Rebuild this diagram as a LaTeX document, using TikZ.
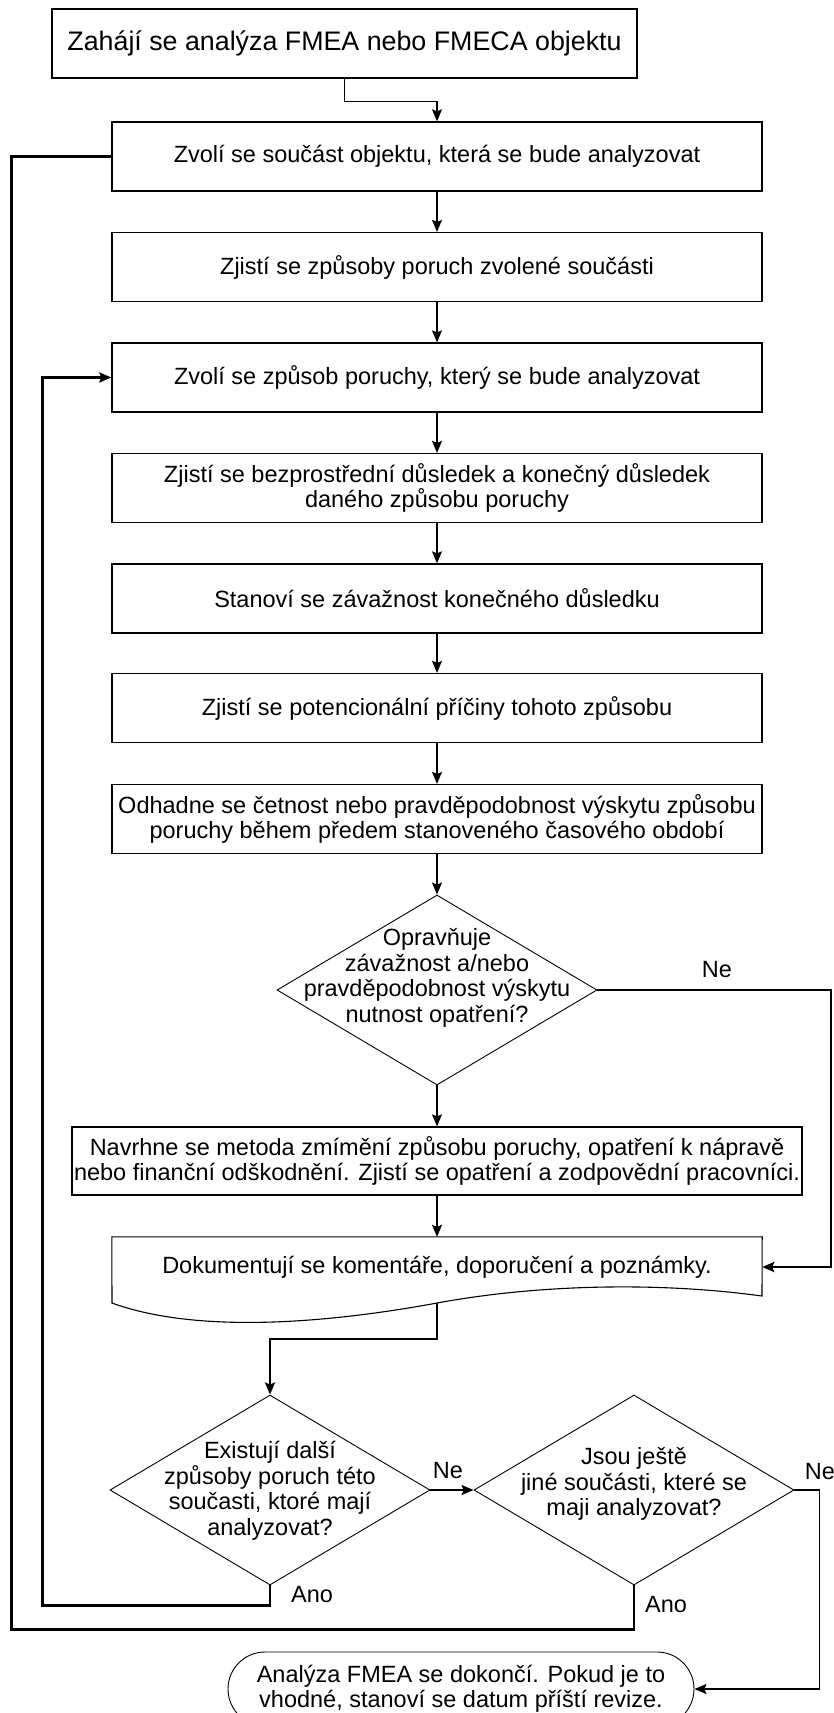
\documentclass[tikz,border=0pt]{standalone}
\usepackage{fontspec}
\setmainfont{Liberation Sans}
\usetikzlibrary{arrows.meta,shapes.geometric}
\begin{document}
\begin{tikzpicture}[x=1pt,y=-1pt,
  every node/.style={font=\fontsize{23.5}{25.5}\selectfont, align=center, inner sep=0pt},
  box/.style={draw, line width=1.3pt, minimum width=650pt, minimum height=69pt},
  dia/.style={draw, line width=0.9pt, shape=diamond, minimum width=320pt, minimum height=190pt},
  ln/.style={line width=1.4pt},
  thk/.style={line width=2.6pt},
  arr/.style={-{Stealth[length=12pt,width=10pt,inset=2pt]}},
]
\useasboundingbox (0,0) rectangle (834,1713);
\fill[white] (0,0) rectangle (834,1713);

\node[box, minimum width=585pt, font=\fontsize{26.8}{28}\selectfont] (b1) at (344.5,43.5) {Zahájí se analýza FMEA nebo FMECA objektu};
\node[box] (b2) at (437,156.5) {Zvolí se součást objektu, která se bude analyzovat};
\node[box] (b3) at (437,267) {Zjistí se způsoby poruch zvolené součásti};
\node[box] (b4) at (437,377.5) {Zvolí se způsob poruchy, který se bude analyzovat};
\node[box] (b5) at (437,488) {Zjistí se bezprostřední důsledek a konečný důsledek\\daného způsobu poruchy};
\node[box] (b6) at (437,598.5) {Stanoví se závažnost konečného důsledku};
\node[box] (b7) at (437,708) {Zjistí se potencionální příčiny tohoto způsobu};
\node[box] (b8) at (437,819) {Odhadne se četnost nebo pravděpodobnost výskytu způsobu\\poruchy během předem stanoveného časového období};

\node[dia] (d1) at (437,990) {};
\node (d1t) at (437,978) {Opravňuje\\závažnost a/nebo\\pravděpodobnost výskytu\\nutnost opatření?};

\node[box, minimum width=730pt, minimum height=68pt] (b9) at (437,1161) {Navrhne se metoda zmímění způsobu poruchy, opatření k nápravě\\nebo finanční odškodnění. Zjistí se opatření a zodpovědní pracovníci.};

\node[minimum width=650pt, minimum height=60pt] (doc) at (437,1267) {Dokumentují se komentáře, doporučení a poznámky.};
\draw[line width=1.1pt] (doc.north west) -- (doc.north east) -- (762,1296)
  .. controls (660,1282) and (540,1284) .. (437,1303)
  .. controls (334,1322) and (200,1335) .. (112,1303) -- cycle;
\coordinate (docb) at (437,1303);

\node[dia] (d2) at (270,1490) {};
\node (d2t) at (270,1491) {Existují další\\způsoby poruch této\\současti, ktoré mají\\analyzovat?};
\node[dia] (d3) at (634,1490) {};
\node (d3t) at (634,1484) {Jsou ještě\\jiné součásti, které se\\maji analyzovat?};

\node[draw, line width=0.9pt, rounded corners=37pt, minimum width=466pt, minimum height=74pt] (end) at (461,1689) {Analýza FMEA se dokončí. Pokud je to\\vhodné, stanoví se datum příští revize.};

% connectors
\draw[ln,arr] (b1.south) -- ++(0,23) -| (b2.north);
\draw[ln,arr] (b2) -- (b3);
\draw[ln,arr] (b3) -- (b4);
\draw[ln,arr] (b4) -- (b5);
\draw[ln,arr] (b5) -- (b6);
\draw[ln,arr] (b6) -- (b7);
\draw[ln,arr] (b7) -- (b8);
\draw[ln,arr] (b8) -- (d1.north);
\draw[ln,arr] (d1.south) -- (b9);
\draw[ln,arr] (b9) -- (doc.north);

\draw[thk,arr] (d1.east) -- (831,990) |- (doc.east);
\node (ne1) at (717,970) {Ne};

\draw[thk,arr] (docb) -- (437,1339) -| (d2.north);

\draw[ln,arr] (d2.east) -- (d3.west);
\node (ne2) at (448,1471) {Ne};

\draw[thk,arr] (d2.south) -- ++(0,20) -| ([xshift=-69pt]b4.west) -- (b4.west);
\node (ano1) at (312,1595) {Ano};

\draw[thk] (d3.south) -- ++(0,44) -| ([xshift=-100pt]b2.west) -- (b2.west);
\node (ano2) at (666,1605) {Ano};

\draw[ln,arr] (d3.east) -- ++(25,0) |- (end.east);
\node (ne3) at (820,1472) {Ne};
\end{tikzpicture}
\end{document}
